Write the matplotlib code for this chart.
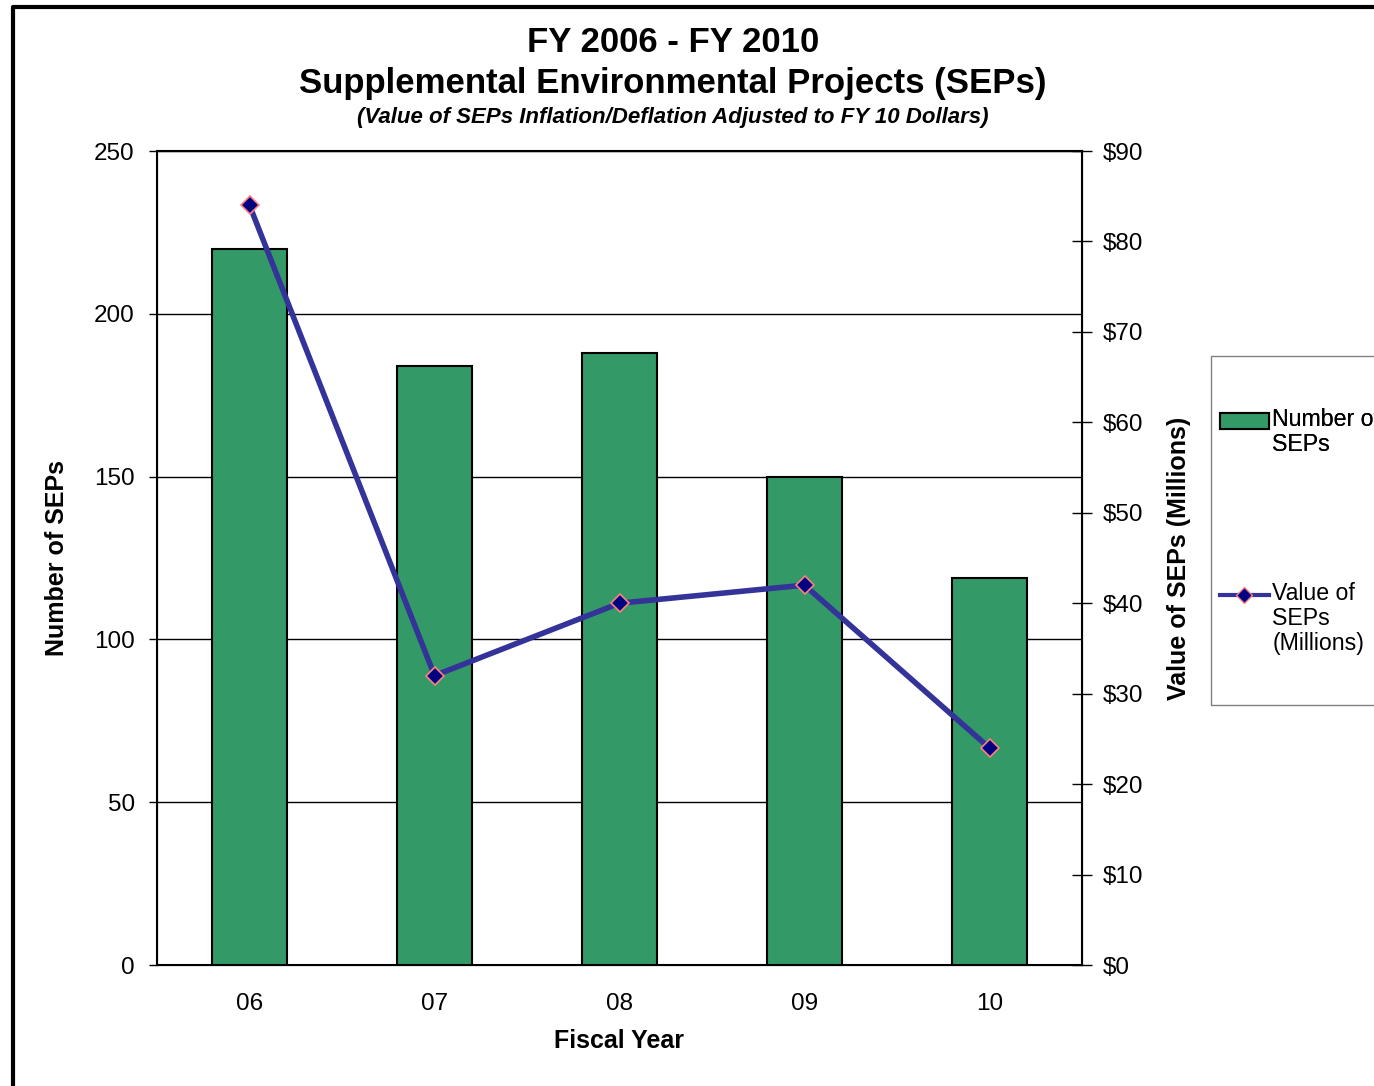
import matplotlib.pyplot as plt
from matplotlib.lines import Line2D
from matplotlib.patches import Rectangle
from matplotlib.ticker import FuncFormatter

plt.rcParams['font.family'] = ['Liberation Sans', 'DejaVu Sans']

years = ['06', '07', '08', '09', '10']
num_seps = [220, 184, 188, 150, 119]
value_seps = [84, 32, 40, 42, 24]  # millions, FY10 dollars

W, H = 1374, 1086
fig = plt.figure(figsize=(W / 100, H / 100), dpi=100)
ax = fig.add_axes([157 / W, 1 - 965 / H, (1082 - 157) / W, (965 - 151) / H])

x = range(len(years))
bars = ax.bar(x, num_seps, width=0.405, color='#339966', edgecolor='black',
              linewidth=1.5, zorder=3)
ax.set_xlim(-0.5, 4.5)
ax.set_ylim(0, 250)
ax.set_yticks([0, 50, 100, 150, 200, 250])
ax.set_xticks(list(x))
ax.set_xticklabels(years)
ax.tick_params(axis='x', length=0, labelsize=17.5, pad=20)
ax.tick_params(axis='y', direction='out', length=6, width=1, labelsize=17.5, pad=10)
ax.yaxis.grid(True, color='black', linewidth=1)
ax.set_axisbelow(True)
for s in ax.spines.values():
    s.set_linewidth(1.5)
ax.set_xlabel('Fiscal Year', fontsize=18, fontweight='bold', labelpad=10)
ax.set_ylabel('Number of SEPs', fontsize=18, fontweight='bold', labelpad=18)

ax2 = ax.twinx()
ax2.plot(list(x), value_seps, color='#333399', linewidth=4,
         marker='D', markersize=9, markerfacecolor='#000080',
         markeredgecolor='#FF8080', markeredgewidth=1.2, zorder=5)
ax2.set_ylim(0, 90)
ax2.set_yticks(range(0, 91, 10))
ax2.yaxis.set_major_formatter(FuncFormatter(lambda v, p: '${:.0f}'.format(v)))
ax2.tick_params(axis='y', direction='inout', length=14, width=1, labelsize=17.5, pad=8)
ax2.set_ylabel('Value of SEPs (Millions)', fontsize=18, fontweight='bold', labelpad=17)

# titles
fig.text(673 / W, 1 - 43 / H, 'FY 2006 - FY 2010', ha='center', va='center',
         fontsize=25, fontweight='bold')
fig.text(673 / W, 1 - 84 / H, 'Supplemental Environmental Projects (SEPs)',
         ha='center', va='center', fontsize=25, fontweight='bold')
fig.text(673 / W, 1 - 117 / H,
         '(Value of SEPs Inflation/Deflation Adjusted to FY 10 Dollars)',
         ha='center', va='center', fontsize=16, fontweight='bold', style='italic')

# legend box
fig.patches.append(Rectangle((1211 / W, 1 - 705 / H), 300 / W, (705 - 356) / H,
                             transform=fig.transFigure, fill=False,
                             edgecolor='#808080', linewidth=1))
h1 = Rectangle((0, 0), 1, 1, facecolor='#339966', edgecolor='black', linewidth=1.5)
h2 = Line2D([], [], color='#333399', linewidth=3, marker='D', markersize=8,
            markerfacecolor='#000080', markeredgecolor='#FF8080')
# blank leading lines keep the handle level with the first text line
leg1 = fig.legend([h1], ['\nNumber of\nSEPs'], loc='center left',
                  bbox_to_anchor=(1220 / W, 1 - 420 / H), frameon=False, fontsize=16.7,
                  handlelength=2.1, handletextpad=0.15, borderpad=0, borderaxespad=0)
leg2 = fig.legend([h2], ['\n\nValue of\nSEPs\n(Millions)'], loc='center left',
                  bbox_to_anchor=(1220 / W, 1 - 594 / H), frameon=False, fontsize=16.7,
                  handlelength=2.1, handletextpad=0.15, borderpad=0, borderaxespad=0)
fig.add_artist(leg1)
for lg in (leg1, leg2):
    for t in lg.get_texts():
        t.set_linespacing(1.1)

# outer border (top and left)
fig.lines.append(Line2D([13 / W, 13 / W, 1.0], [0.0, 1 - 7 / H, 1 - 7 / H],
                        transform=fig.transFigure, color='black', linewidth=3))

fig.savefig('out.png', dpi=100)
